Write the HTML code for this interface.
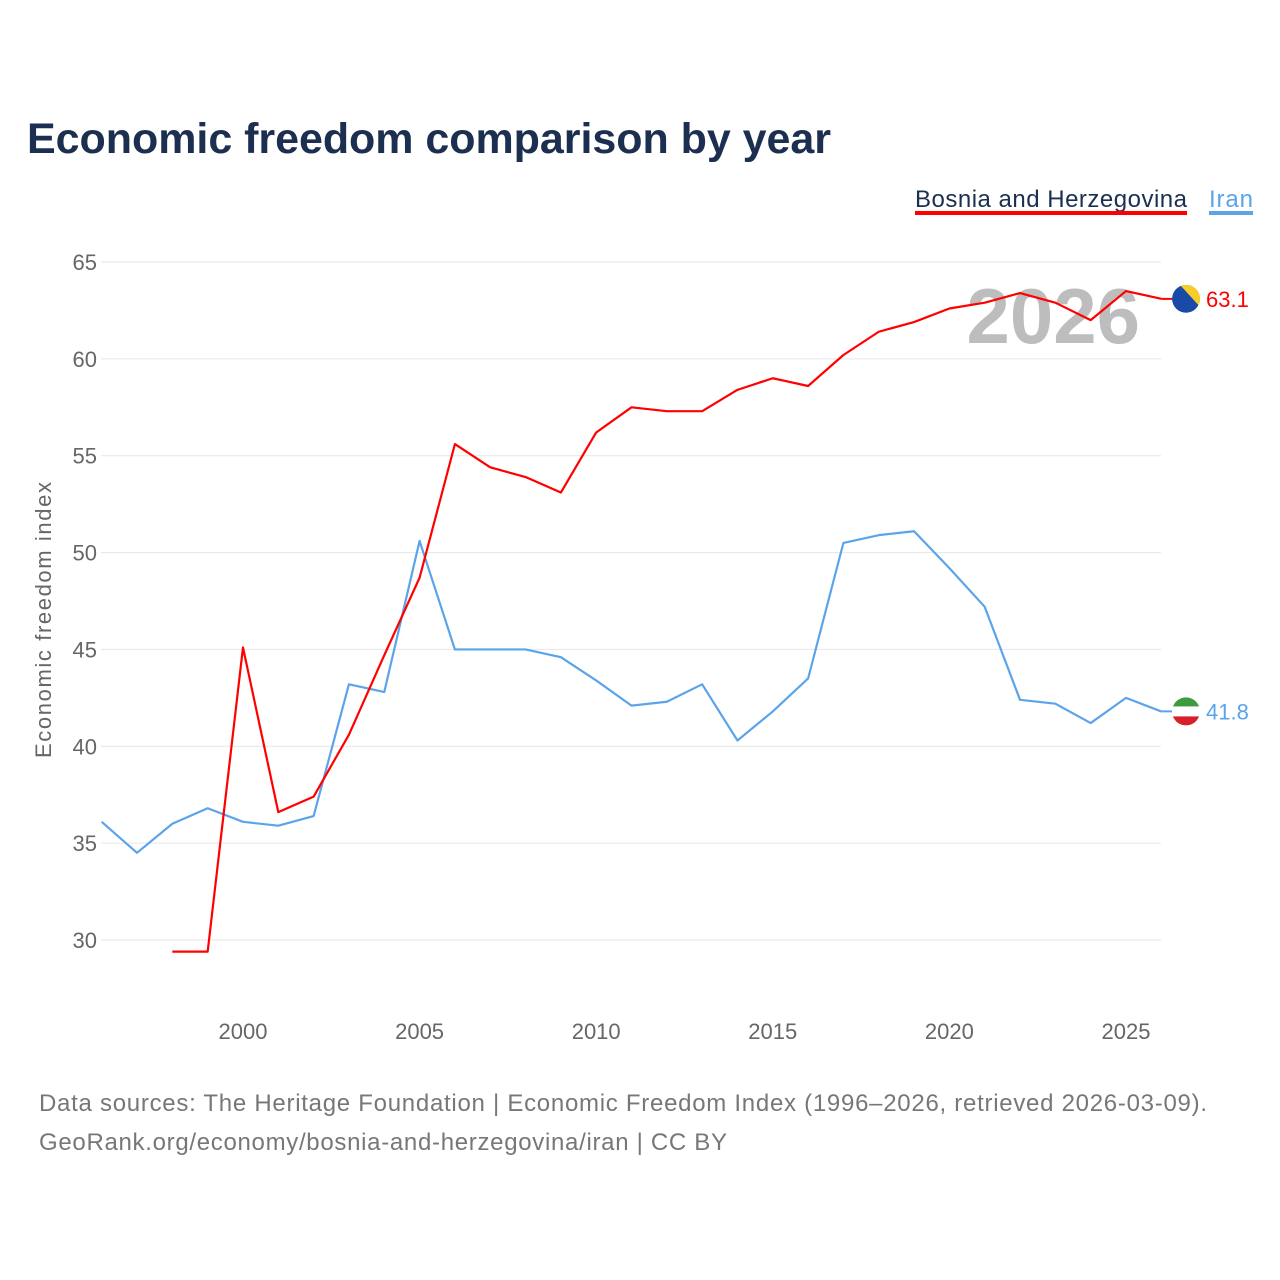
<!DOCTYPE html>
<html><head><meta charset="utf-8"><style>
html,body{margin:0;padding:0;background:#fff;width:1280px;height:1280px;overflow:hidden}
text{font-family:"Liberation Sans",sans-serif}
</style></head><body>
<svg id="chart" width="1280" height="1280" xmlns="http://www.w3.org/2000/svg">
<defs>
<clipPath id="clipB"><circle cx="1186" cy="297" r="14"/></clipPath>
<clipPath id="clipI"><circle cx="1186" cy="711" r="14"/></clipPath>
</defs>
<text x="27" y="153" font-size="43" font-weight="bold" fill="#1c2f50" textLength="804">Economic freedom comparison by year</text>
<g>
<text x="915" y="207" font-size="24" fill="#1c2f50" textLength="272">Bosnia and Herzegovina</text>
<rect x="915" y="211" width="272" height="4" fill="#ff0000"/>
<text x="1209" y="207" font-size="24" fill="#5ba4ea" textLength="44">Iran</text>
<rect x="1209" y="211" width="44" height="4" fill="#5ba4ea"/>
</g>
<text x="1140" y="343" font-size="78" font-weight="bold" fill="#bdbdbd" text-anchor="end">2026</text>
<g id="grid"></g>
<g id="yticks"></g>
<g id="xticks"></g>
<text transform="translate(51,620) rotate(-90)" font-size="22" fill="#666" text-anchor="middle" textLength="276">Economic freedom index</text>
<g id="series"></g>
<g id="ends"></g>
<text x="39" y="1111" font-size="24" fill="#777" textLength="1168">Data sources: The Heritage Foundation | Economic Freedom Index (1996–2026, retrieved 2026-03-09).</text>
<text x="39" y="1150" font-size="24" fill="#777" textLength="688">GeoRank.org/economy/bosnia-and-herzegovina/iran | CC BY</text>
</svg>
<script>
const yTicks=[30,35,40,45,50,55,60,65];
const xTicks=[2000,2005,2010,2015,2020,2025];
const bihYears=[1998,1999,2000,2001,2002,2003,2004,2005,2006,2007,2008,2009,2010,2011,2012,2013,2014,2015,2016,2017,2018,2019,2020,2021,2022,2023,2024,2025,2026];
const bihValues=[29.4,29.4,45.1,36.6,37.4,40.6,44.7,48.7,55.6,54.4,53.9,53.1,56.2,57.5,57.3,57.3,58.4,59.0,58.6,60.2,61.4,61.9,62.6,62.9,63.4,62.9,62.0,63.5,63.1];
const iranYears=[1996,1997,1998,1999,2000,2001,2002,2003,2004,2005,2006,2007,2008,2009,2010,2011,2012,2013,2014,2015,2016,2017,2018,2019,2020,2021,2022,2023,2024,2025,2026];
const iranValues=[36.1,34.5,36.0,36.8,36.1,35.9,36.4,43.2,42.8,50.6,45.0,45.0,45.0,44.6,43.4,42.1,42.3,43.2,40.3,41.8,43.5,50.5,50.9,51.1,49.2,47.2,42.4,42.2,41.2,42.5,41.8];
const NS="http://www.w3.org/2000/svg";
function X(y){return 101.7+(y-1996)*35.32;}
function Y(v){return 940-(v-30)*19.371;}
function mk(t,a,p){const e=document.createElementNS(NS,t);for(const k in a)e.setAttribute(k,a[k]);p.appendChild(e);return e;}
const grid=document.getElementById('grid'),yt=document.getElementById('yticks'),xt=document.getElementById('xticks');
yTicks.forEach(v=>{
 const l=mk('line',{x1:101,x2:1161,y1:Y(v),y2:Y(v),stroke:'#e6e6e6','stroke-width':1},grid);
 
 
 const t=mk('text',{x:97,y:Y(v)+8,'font-size':22,fill:'#666','text-anchor':'end'},yt);t.textContent=v;
 
 
});
xTicks.forEach(v=>{
 const t=mk('text',{x:X(v),y:1039,'font-size':22,fill:'#666','text-anchor':'middle'},xt);t.textContent=v;
 
 
});
const s=document.getElementById('series');
function line(ys,vs,c,n){
 const p=mk('polyline',{points:ys.map((y,i)=>X(y)+','+Y(vs[i])).join(' '),fill:'none',stroke:c,'stroke-width':2.2,'stroke-linejoin':'round'},s);
 
 
}
line(iranYears,iranValues,'#5ba4ea','line-iran');
line(bihYears,bihValues,'#ff0000','line-bosnia');
const ends=document.getElementById('ends');
function end(ys,vs,c,n,cols,clip){
 const v=vs[vs.length-1],y=Y(v),cx=1186;
 mk('line',{x1:X(ys[ys.length-1]),x2:cx,y1:y,y2:y,stroke:c,'stroke-width':2},ends);
 const f=mk('g',{'clip-path':'url(#'+clip+')'},ends);
 
 
 document.querySelector('#'+clip+' circle').setAttribute('cy',y);
 mk('circle',{cx:cx,cy:y,r:14,fill:cols[0]},f);
 if(cols.length===3){mk('rect',{x:cx-14,y:y-14,width:28,height:9,fill:cols[1]},f);mk('rect',{x:cx-14,y:y+5,width:28,height:9,fill:cols[2]},f);}
 else{mk('path',{d:`M${cx-6},${y-14} L${cx+14},${y-14} L${cx+14},${y+8} Z`,fill:cols[1]},f);}
 const t=mk('text',{x:1206,y:y+8,'font-size':22,fill:c},ends);t.textContent=v.toFixed(1);
 
 
}
end(bihYears,bihValues,'#ff0000','bosnia',['#1a4aa8','#f7cd2a'],'clipB');
end(iranYears,iranValues,'#5ba4ea','iran',['#ffffff','#3c9b3c','#d8202a'],'clipI');
</script>
</body></html>
